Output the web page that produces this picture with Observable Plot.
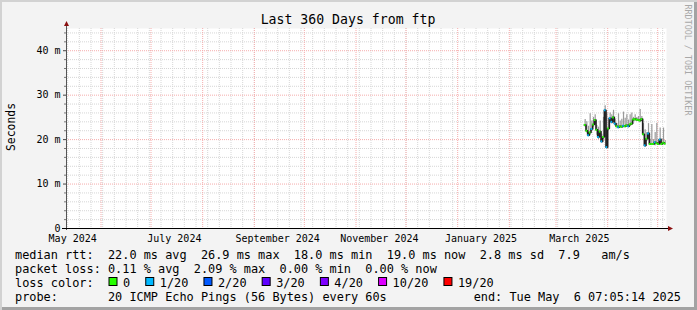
<!DOCTYPE html>
<html><head><meta charset="utf-8">
<script src="https://cdn.jsdelivr.net/npm/d3@7"></script>
<script src="https://cdn.jsdelivr.net/npm/@observablehq/plot@0.6"></script>
<style>
html,body{margin:0;padding:0;background:#fff;}
#wrap{position:relative;width:697px;height:310px;background:#f3f3f3;overflow:hidden;
  box-shadow: inset 2px 2px 0 #d2d2d2, inset -3px -3px 0 #a3a3a3;}
#wrap svg{position:absolute;left:0;top:0;}
text{white-space:pre;}
</style>
</head><body>
<div id="wrap"></div>
<script>
// ---- data ----
const endTime = new Date(Date.UTC(2025, 4, 6, 7, 5, 14));
const startTime = new Date(+endTime - 360 * 864e5);
const dates = ["2025-03-18","2025-03-19","2025-03-20","2025-03-21","2025-03-22","2025-03-23","2025-03-24","2025-03-25","2025-03-26","2025-03-27",
  "2025-03-28","2025-03-29","2025-03-30","2025-03-31","2025-04-01","2025-04-02","2025-04-03","2025-04-04","2025-04-05","2025-04-06",
  "2025-04-07","2025-04-08","2025-04-09","2025-04-10","2025-04-11","2025-04-12","2025-04-13","2025-04-14","2025-04-15","2025-04-16",
  "2025-04-17","2025-04-18","2025-04-19","2025-04-20","2025-04-21","2025-04-22","2025-04-23","2025-04-24","2025-04-25","2025-04-26",
  "2025-04-27","2025-04-28","2025-04-29","2025-04-30","2025-05-01","2025-05-02","2025-05-03","2025-05-04","2025-05-05"];
const medians = [23.3,22.0,21.0,21.6,22.4,23.4,24.4,22.2,20.6,21.8,
  19.6,20.6,26.6,18.3,22.5,24.8,24.0,25.0,23.6,23.0,
  22.8,23.0,22.9,23.1,23.0,23.2,23.0,23.4,23.6,24.5,
  24.6,24.5,24.4,24.3,24.6,21.2,18.7,20.2,21.4,19.0,
  19.0,19.0,19.4,19.2,19.0,20.0,19.0,19.3,19.1];
const smokeHi = [24.5,24.0,23.0,25.8,24.2,25.0,25.6,23.2,22.8,24.2,
  21.2,25.0,27.6,26.0,24.8,26.0,25.6,26.6,24.6,23.6,
  25.8,24.2,24.6,26.2,24.8,25.6,24.4,25.6,26.0,25.0,
  25.6,25.0,25.2,26.8,25.2,23.6,22.2,21.6,23.6,20.0,
  23.4,20.0,21.6,23.6,20.0,22.6,20.2,22.6,19.8];
const smokeLo = [22.8,21.5,20.6,21.0,21.8,22.8,23.5,21.0,20.0,21.2,
  19.2,20.0,24.0,17.8,22.0,24.2,23.5,24.5,23.0,22.6,
  22.4,22.6,22.5,22.7,22.6,22.8,22.6,23.0,23.2,24.1,
  24.2,24.1,24.0,23.9,24.0,20.8,18.2,19.6,20.8,18.7,
  18.7,18.7,18.6,18.8,18.7,19.5,18.7,18.9,18.8];
const lossCounts = [0,0,1,0,1,0,0,0,1,0,
  1,0,1,1,0,1,1,0,1,0,
  1,0,0,1,0,0,1,0,0,0,
  0,0,0,0,0,0,1,0,1,0,
  0,0,1,0,0,1,0,0,0];
const lossBuckets = [0, 1, 2, 3, 4, 10, 19];
const lossLabels = ["0", "1/20", "2/20", "3/20", "4/20", "10/20", "19/20"];
const lossColors = ["#26ff00", "#00b8ff", "#0059ff", "#5e00ff", "#7e00ff", "#dd00ff", "#ff0000"];
const yMajorTicks = [0, 10, 20, 30, 40];
const yMinorTicks = [2,4,6,8,12,14,16,18,22,24,26,28,32,34,36,38,42,44];
const xLabelDates = ["2024-05-15", "2024-07-15", "2024-09-15", "2024-11-15", "2025-01-15", "2025-03-15"];
const titleText = "Last 360 Days from ftp";
const yLabelText = "Seconds";
const watermark = "RRDTOOL / TOBI OETIKER";
const legendRtt = "median rtt:  22.0 ms avg  26.9 ms max  18.0 ms min  19.0 ms now  2.8 ms sd  7.9   am/s";
const legendLoss = "packet loss: 0.11 % avg  2.09 % max  0.00 % min  0.00 % now";
const legendColorHead = "loss color:";
const legendProbe = "probe:       20 ICMP Echo Pings (56 Bytes) every 60s";
const legendEnd = "end: Tue May  6 07:05:14 2025";

// ---- build table ----
const rows = dates.map((d, i) => {
  const t = new Date(d + "T00:00:00Z");
  const bi = lossBuckets.findIndex(b => lossCounts[i] <= b);
  return {date: t, next: d3.utcDay.offset(t, 1), mid: new Date(+t + 12 * 3600e3),
    median: medians[i], hi: smokeHi[i], lo: smokeLo[i], color: lossColors[bi]};
});
const months = d3.utcMonth.range(startTime, endTime);
const weeks = d3.utcSunday.range(startTime, endTime);
const FONT = "'DejaVu Sans Mono', monospace";

const chart = Plot.plot({
  width: 697, height: 310,
  marginLeft: 66, marginRight: 31, marginTop: 28, marginBottom: 82,
  style: {background: "transparent", fontFamily: FONT, fontSize: "10px", color: "#000"},
  x: {type: "utc", domain: [startTime, endTime], axis: null},
  y: {domain: [0, 45], axis: null},
  color: {type: "identity"},
  marks: [
    Plot.frame({fill: "white"}),
    Plot.ruleX(weeks, {stroke: "#d6d6d6", strokeDasharray: "1,1"}),
    Plot.ruleY(yMinorTicks, {stroke: "#d6d6d6", strokeDasharray: "1,1"}),
    Plot.ruleX(months, {stroke: "#f5acac", strokeDasharray: "1,1"}),
    Plot.ruleY(yMajorTicks.filter(v => v > 0), {stroke: "#f5acac", strokeDasharray: "1,1"}),
    Plot.axisY({ticks: yMinorTicks, tickSize: 2, tickFormat: () => "", stroke: "#777"}),
    Plot.axisY({ticks: yMajorTicks, tickSize: 3, tickPadding: 3, fontSize: 10, stroke: "#444",
      tickFormat: d => d === 0 ? "0" : `${d} m`}),
    Plot.axisX({ticks: xLabelDates.map(s => new Date(s + "T00:00:00Z")), tickSize: 0, tickPadding: 6,
      fontSize: 10, tickFormat: d3.utcFormat("%B %Y")}),
    // smoke
    Plot.ruleX(rows, {x: "mid", y1: "lo", y2: "hi", stroke: "#9a9a9a", strokeWidth: 1.2}),
    // median connectors
    Plot.line(rows, {x: "date", y: "median", curve: "step-after", stroke: "#1e1e1e", strokeWidth: 1.6}),
    // median coloured by loss
    Plot.ruleY(rows, {x1: "date", x2: "next", y: "median", stroke: "color", strokeWidth: 2})
  ]
});

const wrap = document.getElementById("wrap");
wrap.appendChild(chart);

// ---- overlay: axis lines, arrows, title & legend ----
const ov = d3.select(wrap).append("svg").attr("width", 697).attr("height", 310)
  .style("pointer-events", "none").style("font-family", FONT);
const xs = chart.scale("x"), ys = chart.scale("y");
const x0 = xs.range[0], x1 = xs.range[1], y0 = ys.range[0], yTop = ys.range[1];
ov.append("line").attr("x1", x0 + 0.5).attr("x2", x0 + 0.5).attr("y1", y0 + 2).attr("y2", yTop - 2)
  .attr("stroke", "#555");
ov.append("line").attr("x1", x0 - 4).attr("x2", x1 + 2).attr("y1", y0 + 0.5).attr("y2", y0 + 0.5)
  .attr("stroke", "#000");
ov.append("path").attr("d", `M${x0 - 2},${yTop - 2}L${x0 + 3},${yTop - 2}L${x0 + 0.5},${yTop - 7}Z`).attr("fill", "#8b1010");
ov.append("path").attr("d", `M${x1 + 2},${y0 - 2}L${x1 + 2},${y0 + 3}L${x1 + 7},${y0 + 0.5}Z`).attr("fill", "#8b1010");

ov.append("text").attr("x", 348).attr("y", 24).attr("text-anchor", "middle")
  .attr("font-size", 13.2).text(titleText);
ov.append("text").attr("transform", "translate(14.5,127) rotate(-90)").attr("text-anchor", "middle")
  .attr("font-size", 11.4).text(yLabelText);
ov.append("text").attr("transform", "translate(685,60) rotate(90)").attr("text-anchor", "middle")
  .attr("font-size", 8.4).attr("fill", "#a8a8a8").text(watermark);

const LF = 11.88, CW = LF * 0.602, LX = 15;
ov.append("text").attr("x", LX).attr("y", 258.5).attr("font-size", LF).text(legendRtt);
ov.append("text").attr("x", LX).attr("y", 272.5).attr("font-size", LF).text(legendLoss);
ov.append("text").attr("x", LX).attr("y", 286.5).attr("font-size", LF).text(legendColorHead);
ov.append("text").attr("x", LX).attr("y", 300.5).attr("font-size", LF).text(legendProbe);
ov.append("text").attr("x", 681).attr("y", 300.5).attr("text-anchor", "end").attr("font-size", LF).text(legendEnd);
let bx = 108.5;
lossLabels.forEach((lab, i) => {
  ov.append("rect").attr("x", bx + 0.5).attr("y", 277.5).attr("width", 8).attr("height", 8)
    .attr("fill", lossColors[i]).attr("stroke", "#000");
  ov.append("text").attr("x", bx + 14.5).attr("y", 286.5).attr("font-size", LF).text(lab);
  bx += lab.length * CW + 29.6;
});
</script>
</body></html>
